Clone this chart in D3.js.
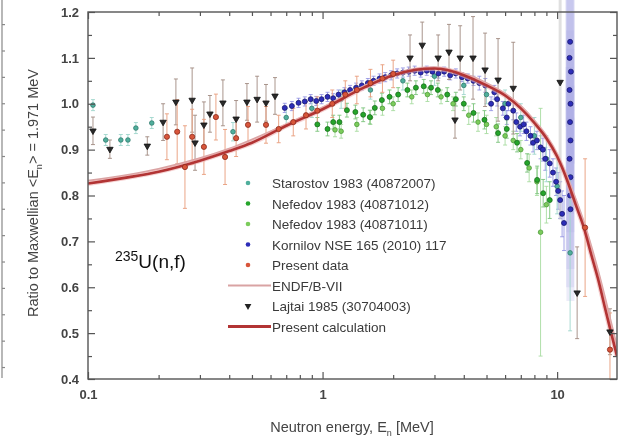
<!DOCTYPE html>
<html><head><meta charset="utf-8">
<script src="https://cdn.jsdelivr.net/npm/d3@7"></script>
<style>body{margin:0;background:#fff} svg{display:block}</style>
</head><body>
<script>
// ---------- data ----------
const yTickValues = [0.4,0.5,0.6,0.7,0.8,0.9,1.0,1.1,1.2];
const yTickLabels = ["0.4","0.5","0.6","0.7","0.8","0.9","1.0","1.1","1.2"];
const xTickValues = [0.1,1,10];
const xTickLabels = ["0.1","1","10"];

const calcE = [0.1,0.15,0.2,0.3,0.4,0.5,0.7,1.0,1.5,2.0,2.5,3.0,3.5,4.0,5.0,6.0,7.0,8.0,9.0,10,11,12,13,14,15,16,17,18];
const calcV = [0.826,0.840,0.852,0.876,0.897,0.915,0.952,0.988,1.035,1.062,1.074,1.077,1.072,1.062,1.040,1.018,0.990,0.958,0.925,0.885,0.835,0.780,0.730,0.670,0.615,0.555,0.500,0.450];
const endfE = [0.1,0.2,0.4,0.7,1.0,1.5,2.0,3.0,4.0,5.0,6.0,7.0,8.0,9.0,10,11,12,13,14,15,16,17,18];
const endfV = [0.832,0.858,0.902,0.955,0.992,1.038,1.064,1.079,1.066,1.045,1.022,0.995,0.963,0.930,0.890,0.842,0.792,0.742,0.688,0.633,0.577,0.522,0.470];

// [energy, ratio, error]
const starostov = [[0.105,0.997,0.012],[0.119,0.921,0.012],[0.138,0.921,0.012],[0.148,0.921,0.012],[0.160,0.947,0.012],[0.187,0.958,0.012],[0.415,0.939,0.02],
  [0.70,0.970,0.02],[0.90,0.990,0.02],[1.2,1.010,0.02],[1.6,1.030,0.02],[2.2,1.050,0.02],[3.0,1.060,0.02],[4.0,1.040,0.02],[5.0,1.020,0.02],
  [6.0,1.000,0.03],[7.0,0.970,0.03],[8.0,0.930,0.04],[9.0,0.880,0.05],[10.0,0.820,0.06],[11.36,0.675,0.17]];
const nefedov12 = [[0.95,0.955,0.015],[1.05,0.945,0.015],[1.11,0.960,0.015],[1.18,0.960,0.015],[1.27,0.986,0.015],[1.38,0.982,0.015],[1.49,0.976,0.015],
  [1.59,0.971,0.015],[1.67,0.991,0.015],[1.79,1.008,0.015],[1.93,1.015,0.015],[2.1,1.020,0.015],[2.3,1.030,0.015],[2.5,1.035,0.015],[2.7,1.038,0.015],
  [2.9,1.035,0.015],[3.1,1.030,0.015],[3.4,1.020,0.015],[3.7,1.010,0.015],[4.0,1.000,0.015],[4.4,0.980,0.02],[4.9,0.965,0.02],[5.6,0.936,0.02],
  [6.1,0.945,0.02],[6.75,0.915,0.02],[7.45,0.871,0.02],[8.22,0.834,0.03],[8.72,0.805,0.03],[9.3,0.790,0.04]];
const nefedov11 = [[1.13,0.943,0.015],[1.2,0.940,0.015],[1.4,0.955,0.015],[1.6,0.970,0.015],[1.8,0.990,0.015],[2.0,1.000,0.015],[2.4,1.015,0.015],
  [2.8,1.020,0.015],[3.2,1.015,0.015],[3.6,1.000,0.015],[4.2,0.975,0.02],[4.6,0.960,0.02],[5.0,0.955,0.02],[5.5,0.950,0.02],[6.0,0.930,0.02],
  [6.5,0.920,0.02],[7.0,0.900,0.02],[7.6,0.860,0.03],[8.2,0.830,0.03],[8.5,0.720,0.27],[9.0,0.780,0.04]];
const kornilov = [[0.69,0.991,0.01],[0.74,0.995,0.01],[0.79,1.002,0.01],[0.84,1.005,0.01],[0.89,1.010,0.01],[0.94,1.006,0.01],[0.99,1.010,0.01],
  [1.05,1.015,0.01],[1.11,1.012,0.01],[1.17,1.020,0.01],[1.24,1.025,0.01],[1.31,1.030,0.01],[1.39,1.035,0.01],[1.47,1.040,0.01],[1.56,1.045,0.01],
  [1.65,1.050,0.01],[1.75,1.055,0.01],[1.85,1.058,0.01],[1.96,1.062,0.01],[2.08,1.066,0.01],[2.2,1.068,0.01],[2.33,1.070,0.01],[2.47,1.072,0.01],
  [2.62,1.068,0.01],[2.78,1.072,0.01],[2.94,1.070,0.01],[3.12,1.066,0.01],[3.3,1.070,0.01],[3.5,1.062,0.01],[3.7,1.066,0.01],[3.93,1.058,0.01],
  [4.16,1.055,0.01],[4.4,1.050,0.01],[4.66,1.045,0.015],[4.94,1.040,0.015],[5.23,1.000,0.015],[5.4,1.025,0.015],[5.55,1.010,0.015],[5.87,0.990,0.015],
  [6.1,0.970,0.015],[6.2,1.000,0.015],[6.5,0.985,0.02],[6.7,0.960,0.02],[6.95,0.950,0.02],[7.2,0.955,0.02],[7.4,0.940,0.02],[7.7,0.930,0.02],
  [7.9,0.915,0.02],[8.2,0.920,0.02],[8.5,0.905,0.025],[8.7,0.900,0.025],[8.9,0.880,0.025],[9.3,0.870,0.03],[9.6,0.850,0.03],[9.9,0.830,0.03],
  [10.1,0.810,0.04],[10.3,0.790,0.04],[10.5,0.760,0.05],[10.7,0.740,0.06],
  [11.36,1.135,0.15],[11.3,1.100,0.15],[11.45,1.070,0.2],[11.3,1.030,0.2],[11.4,1.000,0.2],[11.35,0.960,0.2],[11.4,0.920,0.2],[11.3,0.880,0.2],
  [11.4,0.840,0.2],[11.35,0.800,0.2],[11.4,0.770,0.2]];
const presentData = [[0.217,0.928,0.05],[0.240,0.939,0.07],[0.259,0.862,0.09],[0.278,0.928,0.06],[0.312,0.906,0.06],[0.351,0.971,0.05],
  [0.384,0.884,0.06],[0.428,0.925,0.04],[0.481,0.954,0.04],[0.574,0.954,0.04],[0.65,0.945,0.03],[0.75,0.960,0.03],[0.85,0.975,0.03],
  [0.95,0.985,0.03],[1.1,1.000,0.03],[1.25,1.020,0.03],[1.4,1.030,0.03],[1.6,1.045,0.03],[1.8,1.055,0.03],[2.0,1.065,0.03],
  [13.16,0.730,0.15],[16.8,0.464,0.08]];
const lajtai = [[0.105,0.941,0.03],[0.124,0.901,0.02],[0.179,0.908,0.02],[0.209,0.960,0.04],[0.237,1.004,0.05],[0.278,1.008,0.07],
  [0.286,0.915,0.06],[0.312,0.954,0.05],[0.331,0.978,0.04],[0.376,1.002,0.05],[0.428,0.967,0.04],[0.476,1.004,0.04],[0.526,1.010,0.05],
  [0.574,1.002,0.04],[0.627,1.017,0.04],[2.36,1.100,0.05],[2.66,1.128,0.05],[3.11,1.100,0.05],[3.46,1.113,0.06],[3.67,0.965,0.04],
  [3.86,1.100,0.07],[4.38,1.100,0.09],[4.93,1.074,0.08],[5.6,1.052,0.09],[6.5,1.034,0.1],[10.3,1.047,0.3],[12.17,0.588,0.1],[16.8,0.503,0.05]];

// ---------- drawing ----------
const W = 621, H = 441;
const svg = d3.select("body").append("svg").attr("width", W).attr("height", H);
const x = d3.scaleLog().domain([0.1, 18]).range([88, 617]);
const y = d3.scaleLinear().domain([0.4, 1.2]).range([379, 12]);
const g = svg.append("g").style("filter", "blur(0.5px)");

// left-edge remnant of neighbouring panel
const edge = g.append("g").attr("stroke", "#888").attr("stroke-width", 1.2);
edge.append("line").attr("x1", 2).attr("x2", 2).attr("y1", 0).attr("y2", 378);
d3.range(0.425, 1.2, 0.0575).forEach(v => edge.append("line").attr("x1", 2).attr("x2", 5).attr("y1", y(v)).attr("y2", y(v)));

svg.append("clipPath").attr("id", "clip").append("rect").attr("x", 88).attr("y", 0).attr("width", 529).attr("height", 380);
const plot = g.append("g").attr("clip-path", "url(#clip)");

function errBars(data, color, width, op) {
  plot.append("g").selectAll("line").data(data).join("line")
    .attr("x1", d => x(d[0])).attr("x2", d => x(d[0]))
    .attr("y1", d => y(d[1] - d[2])).attr("y2", d => y(d[1] + d[2]))
    .attr("stroke", color).attr("stroke-width", width).attr("opacity", op);
  if (width < 2) {
    plot.append("g").selectAll("path").data(data).join("path")
      .attr("d", d => `M${x(d[0]) - 2},${y(d[1] - d[2])}h4M${x(d[0]) - 2},${y(d[1] + d[2])}h4`)
      .attr("stroke", color).attr("stroke-width", 1).attr("opacity", op);
  }
}
errBars(kornilov.filter(d => d[0] > 11), "#a8a8e4", 8, 0.22);
errBars(kornilov.filter(d => d[0] <= 11), "#8c8ce0", 1, 0.8);
errBars(starostov, "#9fd6cc", 1, 0.9);
errBars(nefedov11, "#a8dca0", 1, 0.9);
errBars(nefedov12, "#7cc47c", 1, 0.9);
errBars(lajtai.filter(d => d[0] > 10 && d[0] < 11), "#cccccc", 3, 0.6);
errBars(lajtai.filter(d => !(d[0] > 10 && d[0] < 11)), "#a08a80", 1, 0.9);
errBars(presentData, "#e9a080", 1, 0.95);

function dots(data, fill, stroke, r) {
  plot.append("g").selectAll("circle").data(data).join("circle")
    .attr("cx", d => x(d[0])).attr("cy", d => y(d[1])).attr("r", r)
    .attr("fill", fill).attr("stroke", stroke).attr("stroke-width", 0.8);
}
dots(starostov, "#4fae9c", "#2f7a6c", 2.3);
dots(nefedov11, "#7ccc5c", "#4d9a3a", 2.3);
dots(nefedov12, "#25a52a", "#1b6e1e", 2.5);
dots(kornilov, "#2d2db8", "#1a1a70", 2.5);

const line = d3.line().x(d => x(d[0])).y(d => y(d[1])).curve(d3.curveMonotoneX);
plot.append("path").datum(endfE.map((e, i) => [e, endfV[i]])).attr("d", line)
  .attr("fill", "none").attr("stroke", "#d9a3a3").attr("stroke-width", 2);
plot.append("path").datum(calcE.map((e, i) => [e, calcV[i]])).attr("d", line)
  .attr("fill", "none").attr("stroke", "#efb0b0").attr("stroke-width", 5).attr("opacity", 0.6);
plot.append("path").datum(calcE.map((e, i) => [e, calcV[i]])).attr("d", line)
  .attr("fill", "none").attr("stroke", "#b23434").attr("stroke-width", 2.6);

dots(presentData, "#d8553a", "#8a2a1a", 2.6);
const tri = d3.symbol().type(d3.symbolTriangle).size(18);
plot.append("g").selectAll("path").data(lajtai).join("path")
  .attr("transform", d => `translate(${x(d[0])},${y(d[1])}) rotate(180)`)
  .attr("d", tri).attr("fill", "#2a2a2a").attr("stroke", "#111").attr("stroke-width", 0.8);

// frame + axes
g.append("rect").attr("x", 88).attr("y", 12).attr("width", 529).attr("height", 367)
  .attr("fill", "none").attr("stroke", "#555").attr("stroke-width", 1.4);

const minorX = [];
[0.1, 1, 10].forEach(d => { for (let k = 2; k <= 9; k++) if (d * k <= 18) minorX.push(d * k); });
const minorY = d3.range(0.45, 1.2, 0.1);

const axStyle = sel => {
  sel.select(".domain").remove();
  sel.selectAll(".tick line").attr("stroke", "#555").attr("stroke-width", 1.2);
  sel.selectAll(".tick text").attr("font-family", "Liberation Sans, Arial, sans-serif")
    .attr("font-size", 13).attr("font-weight", "bold").attr("fill", "#444");
};
g.append("g").attr("transform", "translate(0,379)")
  .call(d3.axisBottom(x).tickValues(xTickValues).tickSize(-7).tickPadding(11).tickFormat((d, i) => xTickLabels[i])).call(axStyle);
g.append("g").attr("transform", "translate(0,379)")
  .call(d3.axisBottom(x).tickValues(minorX).tickSize(-4).tickFormat("")).call(axStyle);
g.append("g").attr("transform", "translate(0,12)")
  .call(d3.axisTop(x).tickValues(xTickValues).tickSize(-7).tickFormat("")).call(axStyle);
g.append("g").attr("transform", "translate(0,12)")
  .call(d3.axisTop(x).tickValues(minorX).tickSize(-4).tickFormat("")).call(axStyle);
g.append("g").attr("transform", "translate(88,0)")
  .call(d3.axisLeft(y).tickValues(yTickValues).tickSize(-7).tickPadding(9).tickFormat((d, i) => yTickLabels[i])).call(axStyle);
g.append("g").attr("transform", "translate(88,0)")
  .call(d3.axisLeft(y).tickValues(minorY).tickSize(-4).tickFormat("")).call(axStyle);
g.append("g").attr("transform", "translate(617,0)")
  .call(d3.axisRight(y).tickValues(yTickValues).tickSize(-7).tickFormat("")).call(axStyle);
g.append("g").attr("transform", "translate(617,0)")
  .call(d3.axisRight(y).tickValues(minorY).tickSize(-4).tickFormat("")).call(axStyle);

// axis titles
const xt = g.append("text").attr("x", 352).attr("y", 432).attr("text-anchor", "middle")
  .attr("font-family", "Liberation Sans, Arial, sans-serif").attr("font-size", 14.5).attr("fill", "#444");
xt.append("tspan").text("Neutron energy, E");
xt.append("tspan").attr("font-size", 9).attr("dy", 4).text("n");
xt.append("tspan").attr("dy", -4).text(" [MeV]");

const yt = g.append("text").attr("transform", "translate(38,193) rotate(-90)").attr("text-anchor", "middle")
  .attr("font-family", "Liberation Sans, Arial, sans-serif").attr("font-size", 14.5).attr("fill", "#444");
yt.append("tspan").text("Ratio to Maxwellian <E");
yt.append("tspan").attr("font-size", 9).attr("dy", 4).text("n");
yt.append("tspan").attr("dy", -4).text("> = 1.971 MeV");

// legend
const legendItems = [
  {label: "Starostov 1983 (40872007)", kind: "dot", color: "#4fae9c"},
  {label: "Nefedov 1983 (40871012)", kind: "dot", color: "#25a52a"},
  {label: "Nefedov 1983 (40871011)", kind: "dot", color: "#7ccc5c"},
  {label: "Kornilov NSE 165 (2010) 117", kind: "dot", color: "#2d2db8"},
  {label: "Present data", kind: "dot", color: "#d8553a"},
  {label: "ENDF/B-VII", kind: "line", color: "#d9a3a3", w: 2},
  {label: "Lajtai 1985 (30704003)", kind: "tri", color: "#222"},
  {label: "Present calculation", kind: "line", color: "#b23434", w: 3}
];
const lg = g.append("g");
legendItems.forEach((it, i) => {
  const yy = 183 + i * 20.5;
  if (it.kind === "dot") lg.append("circle").attr("cx", 248).attr("cy", yy).attr("r", 2.3).attr("fill", it.color);
  else if (it.kind === "tri") lg.append("path").attr("transform", `translate(248,${yy}) rotate(180)`).attr("d", d3.symbol().type(d3.symbolTriangle).size(20)).attr("fill", it.color);
  else lg.append("line").attr("x1", 228).attr("x2", 271).attr("y1", yy).attr("y2", yy).attr("stroke", it.color).attr("stroke-width", it.w);
  lg.append("text").attr("x", 272).attr("y", yy + 5).text(it.label)
    .attr("font-family", "Liberation Sans, Arial, sans-serif").attr("font-size", 13.5).attr("fill", "#3a3a3a");
});

// reaction label (sharp)
const rl = svg.append("text").attr("x", 115).attr("y", 268)
  .attr("font-family", "Liberation Sans, Arial, sans-serif").attr("fill", "#111");
rl.append("tspan").attr("font-size", 14).attr("dy", -7).text("235");
rl.append("tspan").attr("font-size", 19).attr("dy", 7).text("U(n,f)");
</script>
</body></html>
